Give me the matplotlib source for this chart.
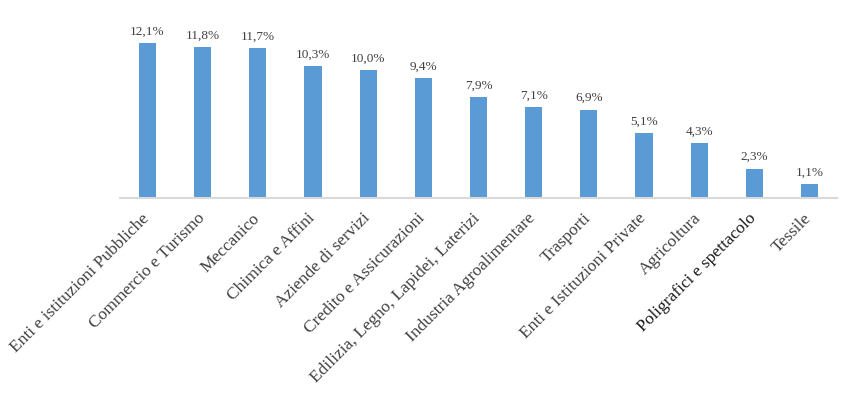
import matplotlib
matplotlib.use('Agg')
import matplotlib.pyplot as plt
import matplotlib.transforms as mtransforms

# sectors and share of total (%)
categories = [
    "Enti e istituzioni Pubbliche", "Commercio e Turismo", "Meccanico",
    "Chimica e Affini", "Aziende di servizi", "Credito e Assicurazioni",
    "Edilizia, Legno, Lapidei, Laterizi", "Industria Agroalimentare",
    "Trasporti", "Enti e Istituzioni Private", "Agricoltura",
    "Poligrafici e spettacolo", "Tessile",
]
values = [12.1, 11.8, 11.7, 10.3, 10.0, 9.4, 7.9, 7.1, 6.9, 5.1, 4.3, 2.3, 1.1]
value_labels = ["12,1%", "11,8%", "11,7%", "10,3%", "10,0%", "9,4%", "7,9%",
                "7,1%", "6,9%", "5,1%", "4,3%", "2,3%", "1,1%"]

plt.rcParams['font.family'] = ['Liberation Serif', 'DejaVu Serif']

fig = plt.figure(figsize=(8.52, 3.95), dpi=100)
ax = fig.add_axes([120 / 852, 197 / 395, 717 / 852, 179 / 395])

x = range(len(categories))
ax.bar(x, values, width=0.31, color='#5b9bd5', zorder=2)

for xi, v, lab in zip(x, values, value_labels):
    ax.annotate(lab, (xi, v), xytext=(0, 4), textcoords='offset points',
                ha='center', va='bottom', fontsize=9.5, color='#404040')

ax.set_xlim(-0.5, len(categories) - 0.5)
ax.set_ylim(0, 14)
ax.set_yticks([])
ax.set_xticks(list(x))
ax.set_xticklabels(categories, rotation=45, ha='right', va='top',
                   fontsize=12.5, color='#404040')
ax.tick_params(axis='x', length=0, pad=6)

# small shift so the labels sit like the original
offset = mtransforms.ScaledTranslation(5 / 100, -4 / 100, fig.dpi_scale_trans)
for lbl in ax.get_xticklabels():
    lbl.set_transform(lbl.get_transform() + offset)
ax.get_xticklabels()[11].set_color('#1a1a1a')

for side in ['top', 'right', 'left']:
    ax.spines[side].set_visible(False)
ax.spines['bottom'].set_color('#d9d9d9')
ax.spines['bottom'].set_linewidth(1.5)

fig.savefig('out.png', dpi=100)
plt.close()
